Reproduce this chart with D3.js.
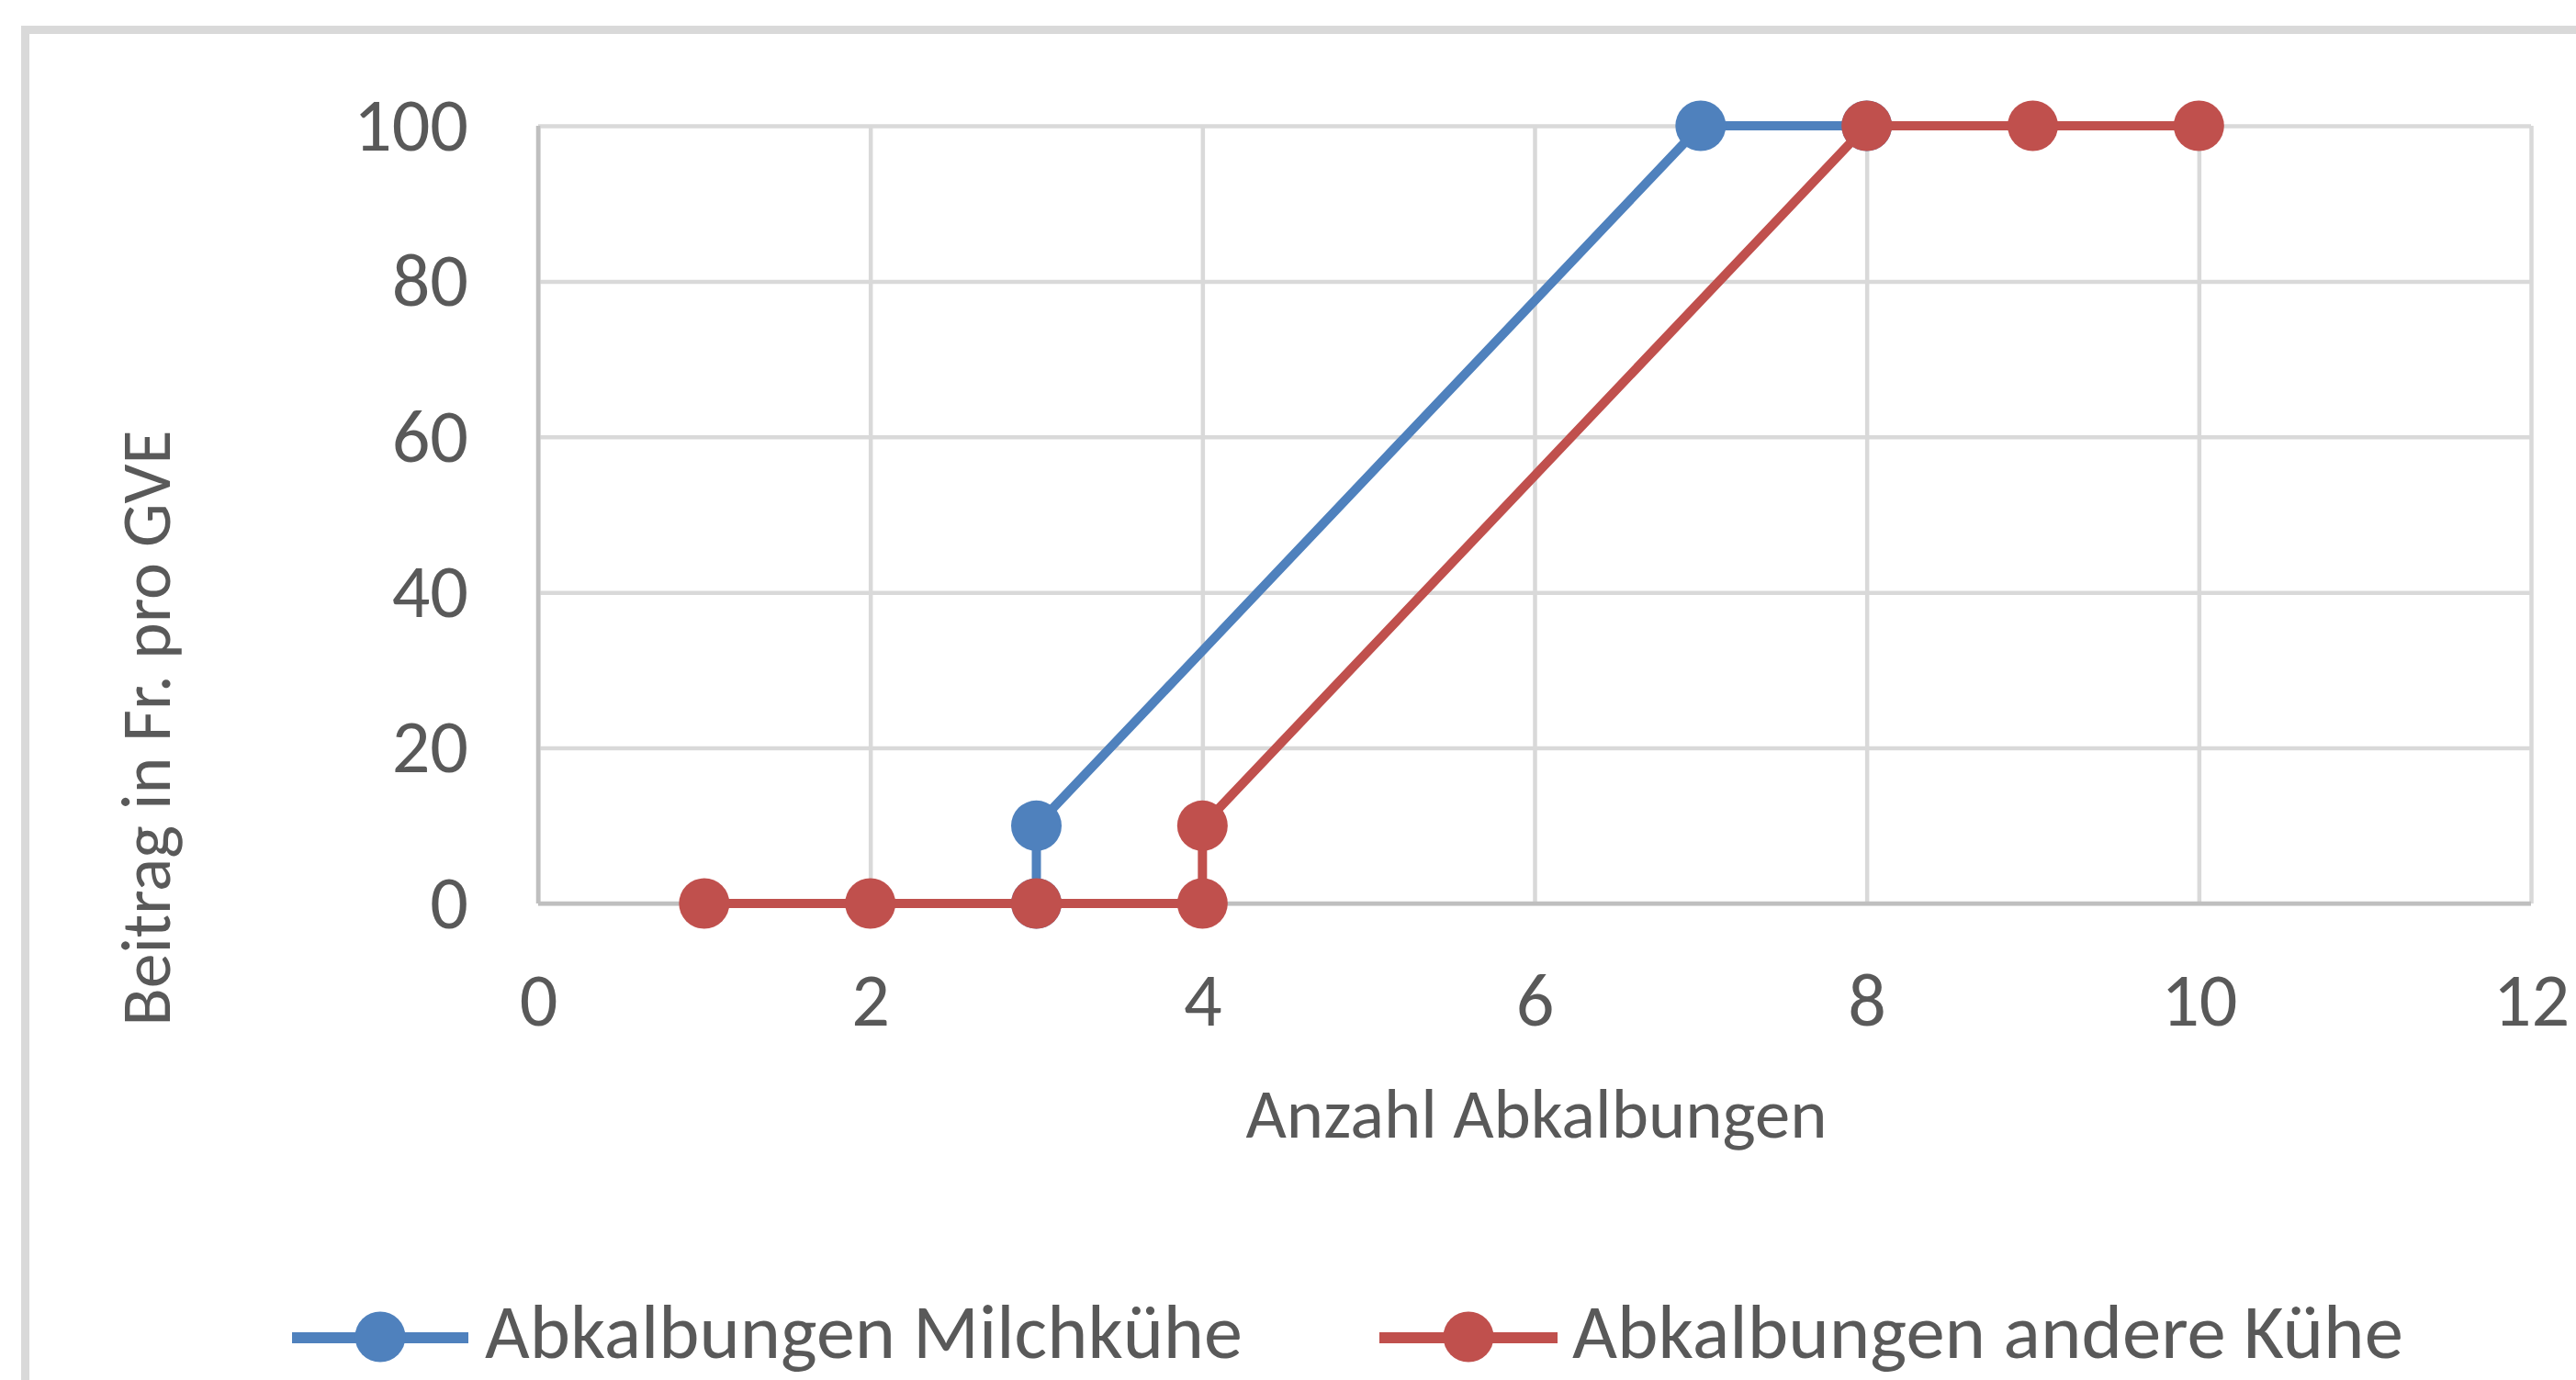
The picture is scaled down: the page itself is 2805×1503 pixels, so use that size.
<!DOCTYPE html>
<html>
<head>
<meta charset="utf-8">
<script src="https://cdn.jsdelivr.net/npm/d3@7"></script>
<style>
  html, body { margin: 0; padding: 0; background: #fff; }
  svg { display: block; }
  text { font-family: Carlito, Calibri, Lato, "Open Sans", sans-serif; fill: #595959; }
</style>
</head>
<body>
<script>
'use strict';

// chart data
const xTicks = [0, 2, 4, 6, 8, 10, 12];
const yTicks = [0, 20, 40, 60, 80, 100];
const milchX = [3, 3, 7, 8];
const milchY = [0, 10, 100, 100];
const andereX = [1, 2, 3, 4, 4, 8, 9, 10];
const andereY = [0, 0, 0, 0, 10, 100, 100, 100];
const seriesNames = ['Abkalbungen Milchkühe', 'Abkalbungen andere Kühe'];
const xTitle = 'Anzahl Abkalbungen';
const yTitle = 'Beitrag in Fr. pro GVE';

(function () {
  const W = 2805, H = 1503;
  const left = 586, right = 2756, top = 137, bottom = 984;
  const blue = '#4f81bd', red = '#c0504d';

  let svg = d3.select('body').append('svg')
    .attr('width', W)
    .attr('height', H);

  svg.append('rect').attr('width', W).attr('height', H).attr('fill', '#fff');

  // chart area border (runs off the picture right and bottom)
  svg.append('rect')
    .attr('x', 27.5).attr('y', 32.5)
    .attr('width', 3000).attr('height', 3000)
    .attr('fill', 'none')
    .attr('stroke', '#d9d9d9')
    .attr('stroke-width', 9);

  let x = d3.scaleLinear().domain([0, 12]).range([left, right]);
  let y = d3.scaleLinear().domain([0, 100]).range([bottom, top]);

  // shrink/grow a text so it spans the width seen in the picture
  function fit(sel, target) {
    let fs = parseFloat(sel.attr('font-size'));
    let len = sel.node().getComputedTextLength();
    sel.attr('font-size', fs * target / len);
  }

  // y axis with horizontal gridlines
  let yAxis = svg.append('g')
    .attr('transform', 'translate(' + left + ',0)')
    .call(d3.axisLeft(y).tickValues(yTicks).tickSize(-(right - left)).tickPadding(76));
  yAxis.select('.domain').remove();
  yAxis.selectAll('line').attr('stroke', '#d9d9d9').attr('stroke-width', 4.5);

  // x axis with vertical gridlines
  let xAxis = svg.append('g')
    .attr('transform', 'translate(0,' + bottom + ')')
    .call(d3.axisBottom(x).tickValues(xTicks).tickSize(-(bottom - top)));
  xAxis.select('.domain').remove();
  xAxis.selectAll('line').attr('stroke', '#d9d9d9').attr('stroke-width', 4.5);
  xAxis.selectAll('text').attr('y', 133).attr('dy', null);

  // tick label font, sized so "100" is as wide as in the picture
  svg.selectAll('.tick text').attr('font-size', 83).attr('fill', '#595959')
    .attr('font-family', null);
  let t100 = yAxis.selectAll('.tick text').filter((d) => d === 100);
  let len100 = t100.node().getComputedTextLength();
  svg.selectAll('.tick text').attr('font-size', 83 * 125 / len100);

  // axis lines
  svg.append('line')
    .attr('x1', x(0)).attr('x2', x(12)).attr('y1', y(0)).attr('y2', y(0))
    .attr('stroke', '#bfbfbf').attr('stroke-width', 4.5);
  svg.append('line')
    .attr('x1', x(0)).attr('x2', x(0)).attr('y1', y(0)).attr('y2', y(100))
    .attr('stroke', '#bfbfbf').attr('stroke-width', 4.5);

  // series
  function drawSeries(xs, ys, color) {
    let pts = xs.map((v, i) => [v, ys[i]]);
    let line = d3.line()
      .x((d) => x(d[0]))
      .y((d) => y(d[1]));
    svg.append('path')
      .datum(pts)
      .attr('fill', 'none')
      .attr('stroke', color)
      .attr('stroke-width', 10)
      .attr('stroke-linejoin', 'round')
      .attr('d', line);
    svg.append('g').selectAll('circle')
      .data(pts)
      .enter()
      .append('circle')
      .attr('cx', (d) => x(d[0]))
      .attr('cy', (d) => y(d[1]))
      .attr('r', 27.5)
      .attr('fill', color);
  }
  drawSeries(milchX, milchY, blue);
  drawSeries(andereX, andereY, red);

  // axis titles
  let xt = svg.append('text')
    .attr('x', 1673).attr('y', 1239)
    .attr('text-anchor', 'middle')
    .attr('font-size', 76)
    .text(xTitle);
  fit(xt, 633);

  let yt = svg.append('text')
    .attr('transform', 'translate(185,793)rotate(-90)')
    .attr('text-anchor', 'middle')
    .attr('font-size', 74)
    .text(yTitle);
  fit(yt, 649);

  // legend
  let legend = [
    { name: seriesNames[0], color: blue, x1: 318, x2: 510, tx: 528, w: 825 },
    { name: seriesNames[1], color: red, x1: 1502, x2: 1696, tx: 1712, w: 905 }
  ];
  legend.forEach((l) => {
    svg.append('line')
      .attr('x1', l.x1).attr('x2', l.x2).attr('y1', 1457).attr('y2', 1457)
      .attr('stroke', l.color).attr('stroke-width', 12);
    svg.append('circle')
      .attr('cx', (l.x1 + l.x2) / 2).attr('cy', 1456).attr('r', 27.5)
      .attr('fill', l.color);
    let t = svg.append('text')
      .attr('x', l.tx).attr('y', 1479)
      .attr('font-size', 85)
      .text(l.name);
    fit(t, l.w);
  });
})();
</script>
</body>
</html>
